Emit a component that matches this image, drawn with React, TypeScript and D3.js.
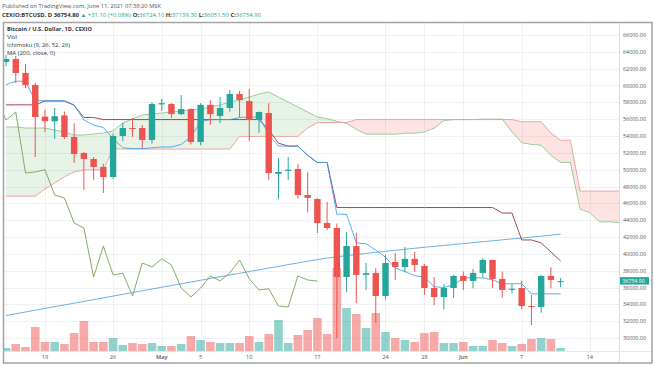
import React, { useEffect, useRef } from 'react';
import * as d3 from 'd3';

const DAY = 86400000;
const START = Date.UTC(2021, 3, 15); // Apr 15, first visible candle

// daily candles Apr 15 .. Jun 11
const opens = [
  62800, 63150, 61490, 60060, 56300, 55750, 56450, 53880, 51980, 51270,
  50320, 49130, 54000, 54950, 54950, 53530, 57750, 57800, 56600, 57200,
  53290, 57700, 56380, 57330, 59000, 58150, 55900, 56730, 49500, 49850,
  50080, 46990, 46520, 43660, 43070, 37250, 40930, 37500, 37730, 34990,
  39030, 38440, 39400, 38560, 35940, 34870, 35940, 37370, 36780, 37730,
  39270, 37020, 35710, 35940, 33800, 33690, 37370, 36724,
];
const highs = [
  63600, 63500, 62550, 60300, 57100, 57330, 56900, 55500, 52100, 51500,
  50700, 54300, 55550, 56140, 55300, 58000, 58400, 57900, 58870, 57300,
  57900, 58280, 58640, 59470, 59350, 59600, 56900, 57900, 51390, 51500,
  50700, 49720, 46600, 46160, 43600, 42600, 42500, 38910, 38300, 39900,
  40100, 40820, 40220, 38800, 37250, 36400, 37500, 37900, 38200, 39500,
  39300, 37900, 36400, 36800, 35110, 37500, 38400, 37139,
];
const lows = [
  62300, 60300, 59700, 51500, 54480, 53650, 53650, 50800, 47600, 48800,
  47230, 48900, 53400, 53880, 52570, 53100, 57000, 56140, 56500, 53000,
  52900, 55310, 55550, 56900, 56250, 53400, 54400, 48800, 46500, 48800,
  46600, 44900, 42480, 42830, 30000, 35470, 34160, 35700, 31800, 34600,
  36900, 37800, 37840, 35110, 33920, 33400, 34760, 35700, 35900, 37200,
  35940, 34800, 35300, 33400, 31550, 33000, 35900, 36051,
];
const closes = [
  63150, 61490, 60060, 56260, 55750, 56350, 53880, 51860, 51270, 50320,
  49130, 54000, 54950, 54850, 53530, 57800, 57900, 56600, 57200, 53290,
  57700, 56600, 57330, 59000, 58270, 55900, 56850, 49600, 49730, 50000,
  46990, 46640, 43660, 43070, 37250, 40930, 37490, 37700, 34990, 38910,
  38440, 39400, 38680, 35940, 34870, 35940, 37370, 36780, 37730, 39270,
  37020, 35710, 35850, 33800, 33690, 37370, 36900, 36755,
];
const volumes = [
  150, 350, 200, 1200, 450, 450, 350, 900, 1500, 450,
  450, 650, 300, 400, 350, 400, 250, 250, 350, 750,
  550, 450, 400, 400, 400, 750, 450, 850, 1550, 400,
  800, 1050, 1650, 850, 4150, 2150, 1850, 1150, 1900, 950,
  650, 550, 450, 900, 950, 400, 400, 450, 250, 250,
  550, 400, 250, 350, 600, 650, 600, 150,
];

// Ichimoku (9, 26, 52, 26)
const tenkan = [
  60100, 60500, 60500, 58200, 58200, 58200, 58200, 57700, 55900, 55300,
  55000, 53700, 52600, 52500, 52500, 52600, 52700, 52700, 53000, 53900,
  55700, 55950, 55950, 55950, 56200, 56250, 56250, 54200, 52800, 52800,
  52800, 51700, 50850, 50850, 44700, 44700, 41300, 41200, 40450, 39600,
  38300, 37900, 37400, 37250, 36100, 36000, 36300, 37150, 37150, 37150,
  36900, 36450, 36450, 36450, 35250, 35250, 35250, 35250,
];
const kijun = [
  57700, 57700, 57700, 57700, 58150, 58150, 58150, 57650, 56200, 56200,
  55950, 55950, 55950, 55950, 55950, 55950, 55950, 55950, 55950, 55950,
  55950, 55950, 55950, 55950, 55950, 55950, 55950, 54750, 53150, 52800,
  52800, 51700, 50850, 50850, 45500, 45500, 45500, 45500, 45500, 45500,
  45500, 45500, 45500, 45500, 45500, 45500, 45500, 45500, 45500, 45500,
  45500, 44850, 44850, 41650, 41650, 41300, 40220, 39150,
];
// leading spans run 25 bars ahead of the last candle
const spanA = [
  55070, 55070, 54950, 54950, 54950, 54700, 54480, 54120, 54120, 54240,
  54360, 54600, 55550, 56020, 56500, 56620, 56730, 56850, 56970, 57090,
  57200, 57450, 57680, 58040, 58280, 58630, 58990, 59230, 58630, 58040,
  57450, 56850, 56260, 56050, 55750, 55500, 54800, 54220, 54220, 54220,
  54220, 54330, 54330, 54480, 54930, 55830, 55950, 55950, 55950, 56000,
  56000, 56000, 54480, 53200, 53000, 52900, 51700, 50850, 50850, 45300,
  44900, 43800, 43800, 43700, 43700,
];
const spanB = [
  46850, 46850, 46850, 46850, 47700, 48420, 49150, 49730, 49970, 49970,
  49970, 52450, 52450, 52450, 52450, 52450, 52450, 52450, 52450, 52450,
  52450, 52450, 52450, 52450, 53950, 53950, 53950, 53950, 53950, 53950,
  53950, 54950, 55600, 55600, 55600, 55600, 55950, 55950, 55950, 55950,
  55950, 55950, 55950, 55950, 55950, 55950, 55950, 55950, 55950, 55950,
  55950, 55950, 55950, 55700, 55700, 55700, 54350, 53500, 53500, 47450,
  47450, 47450, 47450, 47450, 47450,
];
const ma200 = [
  32670, 32880, 33090, 33300, 33510, 33720, 33930, 34140, 34350, 34560,
  34770, 34980, 35190, 35400, 35610, 35820, 36030, 36240, 36450, 36650,
  36860, 37070, 37280, 37490, 37690, 37900, 38100, 38310, 38510, 38720,
  38920, 39120, 39320, 39500, 39650, 39790, 39920, 40050, 40180, 40300,
  40420, 40540, 40660, 40780, 40890, 41000, 41110, 41220, 41330, 41440,
  41550, 41660, 41770, 41880, 41990, 42100, 42220, 42340,
];

const priceTicks = [
  30000, 32000, 34000, 36000, 38000, 40000, 42000, 44000, 46000,
  48000, 50000, 52000, 54000, 56000, 58000, 60000, 62000, 64000, 66000,
];
const dateTicks = [
  '2021-04-19', '2021-04-26', '2021-05-01', '2021-05-05', '2021-05-10', '2021-05-17',
  '2021-05-24', '2021-05-28', '2021-06-01', '2021-06-07', '2021-06-14',
];
const dateTickLabels = ['19', '26', 'May', '5', '10', '17', '24', '28', 'Jun', '7', '14'];
const lastPrice = 36754.9;

const UP = '#26a69a';
const DOWN = '#ef5350';
const FONT = '"Open Sans", "Noto Sans", sans-serif';

const App = () => {
  const svgRef = useRef<SVGSVGElement>(null);

  useEffect(() => {
    const W = 654;
    const H = 366;
    const left = 4;
    const right = 619;
    const top = 22;
    const bottom = 351;

    const svg = d3.select(svgRef.current).attr('width', W).attr('height', H);
    svg.selectAll('*').remove();

    const day = (i: number) => new Date(START + i * DAY);

    const x = d3
      .scaleUtc()
      .domain([new Date(START - 0.21 * DAY), new Date(START + 63 * DAY)])
      .range([left, right]);
    const y = d3.scaleLinear().domain([30000, 66000]).range([338, 35]);
    const yVol = d3.scaleLinear().domain([0, 4150]).range([bottom, 268]);

    svg.append('rect').attr('width', W).attr('height', H).attr('fill', '#fff');

    const defs = svg.append('defs');
    defs
      .append('clipPath')
      .attr('id', 'plot')
      .append('rect')
      .attr('x', left)
      .attr('y', top)
      .attr('width', right - left)
      .attr('height', bottom - top);

    // region above / below leading span B, to split the cloud colour
    defs
      .append('clipPath')
      .attr('id', 'aboveB')
      .append('path')
      .attr(
        'd',
        d3
          .area<number>()
          .x((_, i) => x(day(i)))
          .y0(top)
          .y1((d) => y(d))(spanB) as string
      );
    defs
      .append('clipPath')
      .attr('id', 'belowB')
      .append('path')
      .attr(
        'd',
        d3
          .area<number>()
          .x((_, i) => x(day(i)))
          .y0(bottom)
          .y1((d) => y(d))(spanB) as string
      );

    // grid
    const grid = svg.append('g').attr('stroke', '#eef0f4').attr('stroke-width', 1);
    priceTicks.forEach((p) => {
      grid
        .append('line')
        .attr('x1', left)
        .attr('x2', right)
        .attr('y1', Math.round(y(p)) + 0.5)
        .attr('y2', Math.round(y(p)) + 0.5);
    });
    dateTicks.forEach((d) => {
      const xx = Math.round(x(new Date(d + 'T00:00:00Z'))) + 0.5;
      grid.append('line').attr('x1', xx).attr('x2', xx).attr('y1', top).attr('y2', bottom);
    });

    const plot = svg.append('g').attr('clip-path', 'url(#plot)');

    // volume
    plot
      .selectAll('rect.vol')
      .data(volumes)
      .enter()
      .append('rect')
      .attr('class', 'vol')
      .attr('x', (_, i) => x(day(i)) - 4.3)
      .attr('width', 8.6)
      .attr('y', (d) => yVol(d))
      .attr('height', (d) => bottom - yVol(d))
      .attr('fill', (_, i) =>
        closes[i] >= opens[i] ? 'rgba(38,166,154,0.5)' : 'rgba(239,83,80,0.5)'
      );

    // ichimoku cloud
    const cloud = d3
      .area<number>()
      .x((_, i) => x(day(i)))
      .y0((_, i) => y(spanB[i]))
      .y1((d) => y(d));
    plot
      .append('g')
      .attr('clip-path', 'url(#aboveB)')
      .append('path')
      .attr('d', cloud(spanA) as string)
      .attr('fill', 'rgba(67,160,71,0.13)');
    plot
      .append('g')
      .attr('clip-path', 'url(#belowB)')
      .append('path')
      .attr('d', cloud(spanA) as string)
      .attr('fill', 'rgba(244,67,54,0.14)');

    const line = (offset: number) =>
      d3
        .line<number>()
        .x((_, i) => x(day(i + offset)))
        .y((d) => y(d));

    const drawLine = (arr: number[], color: string, offset = 0, opacity = 1) => {
      plot
        .append('path')
        .attr('d', line(offset)(arr) as string)
        .attr('fill', 'none')
        .attr('stroke', color)
        .attr('stroke-width', 1)
        .attr('stroke-opacity', opacity);
    };

    drawLine(spanA, '#8fc98f', 0, 0.9);
    drawLine(spanB, '#ef9a9a', 0, 0.9);
    drawLine(closes, '#6f9f4a', -25, 0.85); // lagging span
    drawLine(ma200, '#5aa7e6', 0, 0.9);
    drawLine(kijun, '#8c2a3a', 0, 0.85);
    drawLine(tenkan, '#3a9ff0', 0, 0.85);

    // candles
    const candles = plot
      .selectAll('g.candle')
      .data(closes)
      .enter()
      .append('g')
      .attr('class', 'candle');
    candles
      .append('line')
      .attr('x1', (_, i) => x(day(i)))
      .attr('x2', (_, i) => x(day(i)))
      .attr('y1', (_, i) => y(highs[i]))
      .attr('y2', (_, i) => y(lows[i]))
      .attr('stroke', (d, i) => (d >= opens[i] ? UP : DOWN))
      .attr('stroke-width', 1);
    candles
      .append('rect')
      .attr('x', (_, i) => x(day(i)) - 3.2)
      .attr('width', 6.4)
      .attr('y', (d, i) => y(Math.max(d, opens[i])))
      .attr('height', (d, i) => Math.max(1, Math.abs(y(d) - y(opens[i]))))
      .attr('fill', (d, i) => (d >= opens[i] ? UP : DOWN));

    // separators and frame
    svg
      .append('line')
      .attr('x1', right + 0.5)
      .attr('x2', right + 0.5)
      .attr('y1', top)
      .attr('y2', 363)
      .attr('stroke', '#d9dce2');
    svg
      .append('line')
      .attr('x1', left)
      .attr('x2', 652)
      .attr('y1', bottom + 0.5)
      .attr('y2', bottom + 0.5)
      .attr('stroke', '#e3e6eb');
    svg
      .append('rect')
      .attr('x', 3.5)
      .attr('y', 22.5)
      .attr('width', 648.5)
      .attr('height', 340.5)
      .attr('fill', 'none')
      .attr('stroke', '#a3a3a3')
      .attr('stroke-width', 1.5);

    // price axis
    const fmt = d3.format('.2f');
    svg
      .append('g')
      .selectAll('text')
      .data(priceTicks)
      .enter()
      .append('text')
      .attr('x', 623)
      .attr('y', (d) => y(d) + 2)
      .attr('font-family', FONT)
      .attr('font-size', 5.4)
      .attr('fill', '#555')
      .text((d) => fmt(d));

    svg
      .append('rect')
      .attr('x', 620)
      .attr('y', y(lastPrice) - 4)
      .attr('width', 29)
      .attr('height', 7.4)
      .attr('fill', UP);
    svg
      .append('text')
      .attr('x', 622.5)
      .attr('y', y(lastPrice) + 1.6)
      .attr('font-family', FONT)
      .attr('font-size', 5.2)
      .attr('fill', '#fff')
      .text(fmt(lastPrice));

    // time axis
    svg
      .append('g')
      .selectAll('text')
      .data(dateTicks)
      .enter()
      .append('text')
      .attr('x', (d) => x(new Date(d + 'T00:00:00Z')))
      .attr('y', 359)
      .attr('text-anchor', 'middle')
      .attr('font-family', FONT)
      .attr('font-size', 5.6)
      .attr('font-weight', (_, i) => (/[A-Za-z]/.test(dateTickLabels[i]) ? 600 : 400))
      .attr('fill', '#555')
      .text((_, i) => dateTickLabels[i]);

    // header
    svg
      .append('text')
      .attr('x', 2)
      .attr('y', 8)
      .attr('font-family', FONT)
      .attr('font-size', 5.6)
      .attr('fill', '#555')
      .attr('textLength', 159)
      .attr('lengthAdjust', 'spacingAndGlyphs')
      .text('Published on TradingView.com, June 11, 2021 07:38:20 MSK');

    const head = svg
      .append('text')
      .attr('x', 2)
      .attr('y', 17)
      .attr('font-family', FONT)
      .attr('font-size', 5.6)
      .attr('fill', '#333')
      .attr('textLength', 259)
      .attr('lengthAdjust', 'spacingAndGlyphs');
    const parts: [string, string, number][] = [
      ['CEXIO:BTCUSD, D 36754.80 ', '#333', 700],
      ['▲ +31.10 (+0.08%) ', UP, 400],
      ['O:', '#333', 700],
      ['36724.10 ', UP, 400],
      ['H:', '#333', 700],
      ['37139.30 ', UP, 400],
      ['L:', '#333', 700],
      ['36051.50 ', UP, 400],
      ['C:', '#333', 700],
      ['36754.90', UP, 400],
    ];
    parts.forEach(([t, c, w]) => {
      head.append('tspan').attr('fill', c).attr('font-weight', w).text(t);
    });

    // legend
    const legend: [string, number, number, number][] = [
      ['Bitcoin / U.S. Dollar, 1D, CEXIO', 31, 85, 700],
      ['Vol', 39, 10, 400],
      ['Ichimoku (9, 26, 52, 26)', 47, 63, 400],
      ['MA (200, close, 0)', 55, 48, 400],
    ];
    legend.forEach(([t, yy, len, w]) => {
      svg
        .append('text')
        .attr('x', 7)
        .attr('y', yy)
        .attr('font-family', FONT)
        .attr('font-size', 6)
        .attr('font-weight', w)
        .attr('fill', '#333')
        .attr('textLength', len)
        .attr('lengthAdjust', 'spacingAndGlyphs')
        .text(t);
    });
  }, []);

  return (
    <svg
      ref={svgRef}
      style={{ position: 'absolute', left: 0, top: 0, display: 'block' }}
    />
  );
};

export default App;
